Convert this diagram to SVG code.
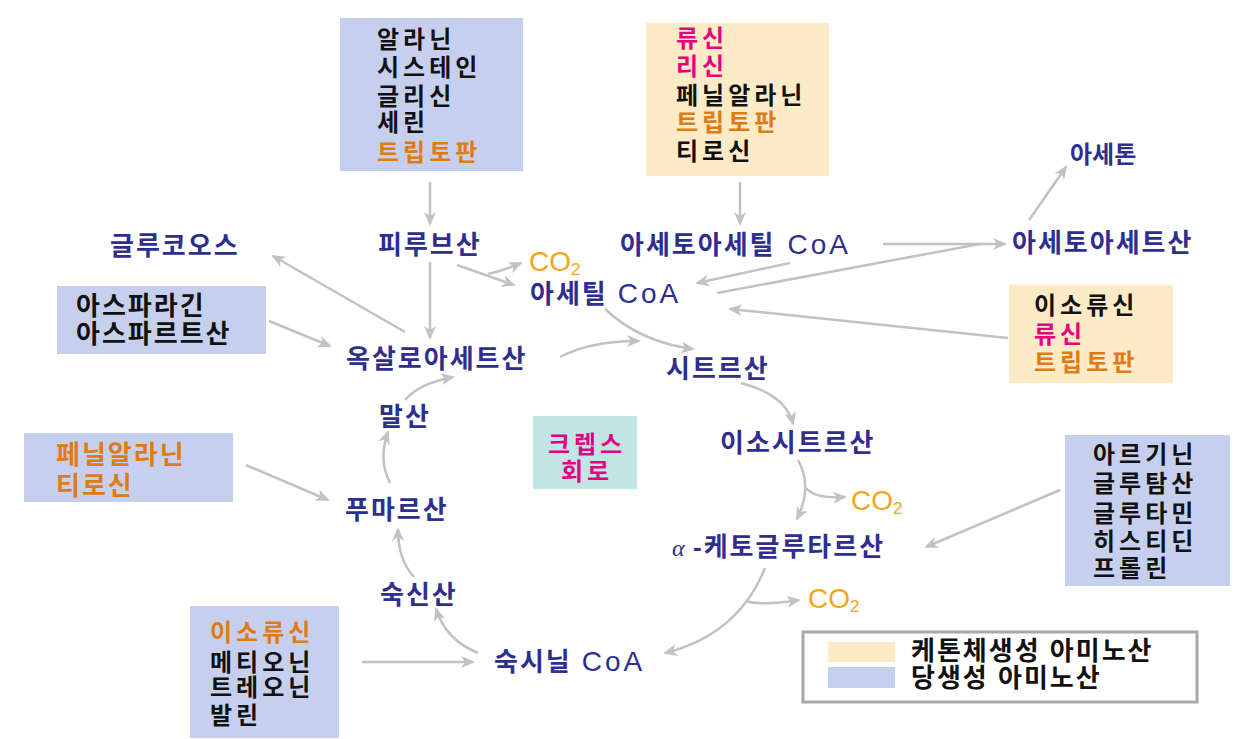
<svg xmlns="http://www.w3.org/2000/svg" width="1254" height="739" viewBox="0 0 1254 739">
<defs>
<marker id="ah" markerUnits="userSpaceOnUse" markerWidth="14" markerHeight="12" viewBox="0 0 14 12" refX="12" refY="6" orient="auto">
<path d="M0,0 L14,6 L0,12 L4,6 z" fill="#c2c2c2"/>
</marker>
<style>
.t{font-family:"Liberation Sans","Noto Sans CJK KR",sans-serif;font-size:26px;letter-spacing:2px;font-weight:bold}
.b{font-family:"Liberation Sans","Noto Sans CJK KR",sans-serif;font-size:24px;letter-spacing:4px;font-weight:bold}
.n{fill:#2e2e8f}
.k{fill:#111111}
.o{fill:#e07a12}
.m{fill:#e5007f}
.lat{font-weight:normal;letter-spacing:3px;font-size:28px}
.co2{font-family:"Liberation Sans",sans-serif;font-size:28px;fill:#f5a51c}
.blue{fill:#c6d0ee}
.yel{fill:#fdebc8}
.cyan{fill:#c1e5e5}
.c{fill:none;stroke:#c2c2c2;stroke-width:2.5;marker-end:url(#ah)}
.c2{fill:none;stroke:#c2c2c2;stroke-width:2.5}
</style>
</defs>
<rect width="1254" height="739" fill="#ffffff"/>

<g id="boxA">
<rect class="blue" x="340" y="18" width="183" height="153"/>
<text class="b k" x="377" y="48">알라닌</text>
<text class="b k" x="377" y="76">시스테인</text>
<text class="b k" x="377" y="105">글리신</text>
<text class="b k" x="377" y="131">세린</text>
<text class="b o" x="377" y="161">트립토판</text>
</g>
<g id="boxB">
<rect class="yel" x="646" y="23" width="183" height="153"/>
<text class="b m" x="676" y="47">류신</text>
<text class="b m" x="676" y="75">리신</text>
<text class="b k" x="676" y="104">페닐알라닌</text>
<text class="b o" x="676" y="131">트립토판</text>
<text class="b k" x="676" y="160">티로신</text>
</g>
<g id="boxC">
<rect class="blue" x="57" y="286" width="209" height="68"/>
<text class="t k" x="76" y="315">아스파라긴</text>
<text class="t k" x="76" y="343">아스파르트산</text>
</g>
<g id="boxD">
<rect class="yel" x="1009" y="285" width="164" height="98"/>
<text class="b k" x="1034" y="314">이소류신</text>
<text class="b m" x="1034" y="343">류신</text>
<text class="b o" x="1034" y="371">트립토판</text>
</g>
<g id="boxE">
<rect class="blue" x="24" y="433" width="209" height="69"/>
<text class="t o" x="56" y="464">페닐알라닌</text>
<text class="t o" x="56" y="495">티로신</text>
</g>
<g id="boxF">
<rect class="blue" x="1065" y="435" width="165" height="151"/>
<text class="b k" x="1093" y="463">아르기닌</text>
<text class="b k" x="1093" y="492">글루탐산</text>
<text class="b k" x="1093" y="522">글루타민</text>
<text class="b k" x="1093" y="550">히스티딘</text>
<text class="b k" x="1093" y="577">프롤린</text>
</g>
<g id="boxG">
<rect class="blue" x="190" y="606" width="149" height="132"/>
<text class="b o" x="210" y="641">이소류신</text>
<text class="b k" x="210" y="671">메티오닌</text>
<text class="b k" x="210" y="696">트레오닌</text>
<text class="b k" x="210" y="724">발린</text>
</g>
<g id="krebs">
<rect class="cyan" x="533" y="416" width="104" height="73"/>
<text class="b m" x="587" y="453" text-anchor="middle">크렙스</text>
<text class="b m" x="587" y="480" text-anchor="middle">회로</text>
</g>

<g id="pyruvate"><text class="t n" x="378" y="254">피루브산</text></g>
<g id="glucose"><text class="t n" x="110" y="255">글루코오스</text></g>
<g id="co2a"><text class="co2" x="529" y="271">CO<tspan font-size="17" dy="4">2</tspan></text></g>
<g id="acetylcoa"><text class="t n" x="530" y="303">아세틸<tspan class="lat" dx="10">CoA</tspan></text></g>
<g id="acetoacetylcoa"><text class="t n" x="620" y="254">아세토아세틸<tspan class="lat" dx="12">CoA</tspan></text></g>
<g id="acetoacetate"><text class="t n" x="1012" y="252">아세토아세트산</text></g>
<g id="acetone"><text class="t n" x="1070" y="163" style="font-size:24px;letter-spacing:0px">아세톤</text></g>
<g id="oxaloacetate"><text class="t n" x="346" y="368">옥살로아세트산</text></g>
<g id="citrate"><text class="t n" x="666" y="378">시트르산</text></g>
<g id="malate"><text class="t n" x="379" y="426">말산</text></g>
<g id="isocitrate"><text class="t n" x="720" y="452">이소시트르산</text></g>
<g id="co2b"><text class="co2" x="851" y="510">CO<tspan font-size="17" dy="4">2</tspan></text></g>
<g id="fumarate"><text class="t n" x="345" y="519">푸마르산</text></g>
<g id="akg"><text class="t n" x="672" y="556"><tspan font-family="Liberation Serif,serif" font-style="italic" font-weight="normal" font-size="24">α</tspan><tspan x="693">-케토글루타르산</tspan></text></g>
<g id="co2c"><text class="co2" x="808" y="608">CO<tspan font-size="17" dy="4">2</tspan></text></g>
<g id="succinate"><text class="t n" x="380" y="604">숙신산</text></g>
<g id="succinylcoa"><text class="t n" x="494" y="671">숙시닐<tspan class="lat" dx="10">CoA</tspan></text></g>

<g id="legend">
<rect x="803" y="632" width="394" height="70" fill="#ffffff" stroke="#a8a8a8" stroke-width="3"/>
<rect class="yel" x="828" y="642" width="67" height="20"/>
<rect class="blue" x="828" y="667" width="67" height="21"/>
<text class="t k" x="911" y="660">케톤체생성 아미노산</text>
<text class="t k" x="911" y="687">당생성 아미노산</text>
</g>

<g id="connectors">
<path class="c" d="M430,182 L430,224"/>
<path class="c" d="M740,182 L740,224"/>
<path class="c" d="M430,262 L430,338"/>
<path class="c" d="M457,265 L514,285"/>
<path class="c" d="M488,274 Q502,271 521,263"/>
<path class="c" d="M405,332 L273,256"/>
<path class="c" d="M269,321 L330,346"/>
<path class="c" d="M560,357 Q590,341 639,341"/>
<path class="c" d="M605,309 Q640,342 693,349"/>
<path class="c" d="M883,244 L1005,244"/>
<path class="c" d="M790,263 L697,283"/>
<path class="c2" d="M717,293 L980,244"/>
<path class="c" d="M1029,220 L1066,167"/>
<path class="c" d="M1008,338 L730,309"/>
<path class="c" d="M741,383 Q786,395 793,424"/>
<path class="c" d="M798,460 Q813,487 797,519"/>
<path class="c" d="M806,488 Q815,499 845,497"/>
<path class="c" d="M1060,490 L926,547"/>
<path class="c" d="M765,568 Q738,635 665,653"/>
<path class="c" d="M746,601 Q762,606 799,600"/>
<path class="c" d="M362,662 L473,662"/>
<path class="c" d="M478,653 Q446,640 436,609"/>
<path class="c" d="M414,577 Q398,560 398,529"/>
<path class="c" d="M390,483 Q378,460 388,432"/>
<path class="c" d="M405,400 Q420,383 453,377"/>
<path class="c" d="M246,465 L328,500"/>
</g>
</svg>
